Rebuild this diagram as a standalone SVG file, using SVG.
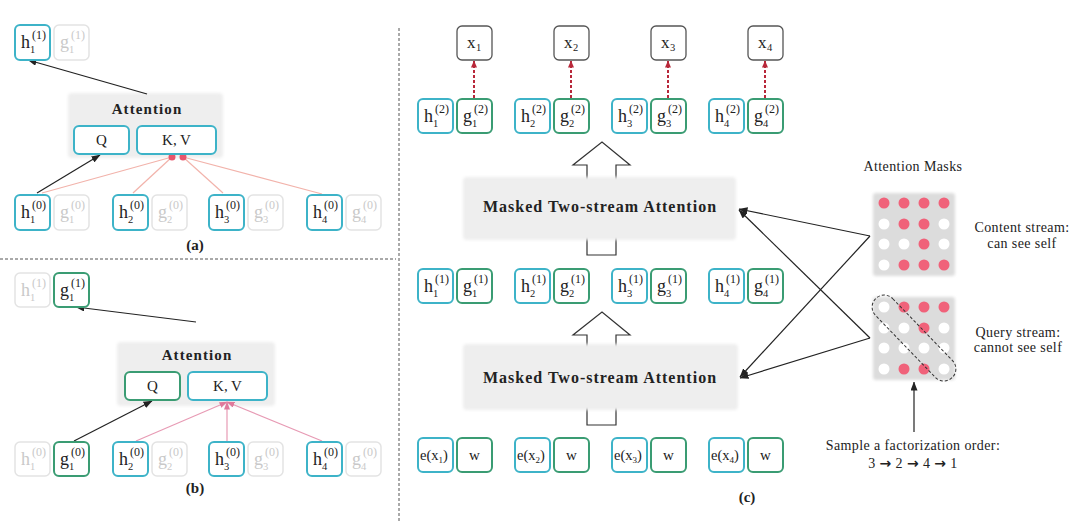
<svg xmlns="http://www.w3.org/2000/svg" width="1080" height="521" viewBox="0 0 1080 521">
<style>
.t{font-family:"Liberation Serif","Times New Roman",serif;fill:#222}
.big{font-size:18px}
.sup{font-size:12px}
.sub{font-size:10.5px}
.f{fill:#c9c9c9}
.hb{fill:#fff;stroke:#3db3c8;stroke-width:2}
.gb{fill:#fff;stroke:#3a9c73;stroke-width:2}
.fb{fill:#fff;stroke:#e3e3e3;stroke-width:1.5}
.xb{fill:#fff;stroke:#555;stroke-width:1.3}
.att{font-family:"Liberation Serif",serif;font-weight:bold;font-size:15px;letter-spacing:1.1px;fill:#222;text-anchor:middle}
.matt{font-family:"Liberation Serif",serif;font-weight:bold;font-size:16px;letter-spacing:1px;fill:#222;text-anchor:middle}
.lab{font-family:"Liberation Serif",serif;font-size:15px;fill:#222;text-anchor:middle}
.cap{font-family:"Liberation Serif",serif;font-size:15px;font-weight:bold;fill:#222;text-anchor:middle}
.note{font-family:"Liberation Serif",serif;font-size:14px;letter-spacing:0.4px;fill:#222;text-anchor:middle}
.arr{font-family:"DejaVu Sans",sans-serif;font-weight:bold;font-size:14px}
.gray{fill:#eeeeee;filter:url(#soft)}
.mg{fill:#dcdcdc;filter:url(#soft)}
.r{fill:#f0627a}
.w{fill:#ffffff}
.blk{stroke:#222;stroke-width:1.2;fill:none;marker-end:url(#ah)}
.pk{stroke:#f2b3ab;stroke-width:1.2;fill:none}
.pkb{stroke:#e79ab4;stroke-width:1.2;fill:none}
.rd{stroke:#b8283a;stroke-width:2;stroke-dasharray:3 2;fill:none;marker-end:url(#ahr)}
.sep{stroke:#555;stroke-width:1;stroke-dasharray:3 2;fill:none}
.hollow{fill:#fff;stroke:#333;stroke-width:1.2}
</style>
<defs>
<filter id="soft" x="-10%" y="-10%" width="120%" height="120%"><feGaussianBlur stdDeviation="1.5"/></filter>
<marker id="ah" markerUnits="userSpaceOnUse" markerWidth="9" markerHeight="7" refX="8.5" refY="3.5" orient="auto"><path d="M0,0 L9,3.5 L0,7 z" fill="#222"/></marker>
<marker id="ahr" markerUnits="userSpaceOnUse" markerWidth="7" markerHeight="6" refX="6.5" refY="3" orient="auto"><path d="M0,0 L7,3 L0,6 z" fill="#b8283a"/></marker>
<marker id="ahp" markerUnits="userSpaceOnUse" markerWidth="8" markerHeight="6" refX="7.5" refY="3" orient="auto"><path d="M0,0 L8,3 L0,6 z" fill="#e07a9c"/></marker>
</defs>
<rect width="1080" height="521" fill="#fff"/>

<!-- separators -->
<g id="separators">
<line class="sep" x1="0" y1="259" x2="396" y2="259"/>
<line class="sep" x1="399" y1="28" x2="399" y2="521"/>
</g>

<!-- gray attention blocks and hollow arrows -->
<g id="attn-a"><rect class="gray" x="68" y="93" width="155" height="65" rx="4"/><text class="att" x="147" y="114">Attention</text></g>
<g id="attn-b"><rect class="gray" x="117" y="342" width="158" height="64" rx="4"/><text class="att" x="197" y="360">Attention</text></g>

<g id="hollow-arrows">
<polygon class="hollow" points="587,255 587,165 573,165 602,142 630,165 616,165 616,255"/>
<polygon class="hollow" points="587,425 587,335 573,335 602,312 630,335 616,335 616,425"/>
</g>
<g id="mtsa-2"><rect class="gray" x="463" y="177" width="273" height="63" rx="4"/><text class="matt" x="600" y="212">Masked Two-stream Attention</text></g>
<g id="mtsa-1"><rect class="gray" x="463" y="344" width="275" height="66" rx="4"/><text class="matt" x="600" y="383">Masked Two-stream Attention</text></g>

<!-- connectors -->
<g id="connectors">
<!-- panel a -->
<line class="pk" x1="42" y1="193" x2="172" y2="157"/>
<line class="pk" x1="133" y1="193" x2="172" y2="157"/>
<line class="pk" x1="223" y1="193" x2="183" y2="157"/>
<line class="pk" x1="322" y1="194" x2="183" y2="157"/>
<circle cx="172" cy="157" r="3.5" fill="#e8566c"/>
<circle cx="183" cy="157" r="3.5" fill="#e8566c"/>
<line class="blk" x1="147" y1="94" x2="28" y2="60"/>
<line class="blk" x1="37" y1="193" x2="100" y2="155"/>
<!-- panel b -->
<line class="pkb" x1="136" y1="441" x2="227" y2="402" marker-end="url(#ahp)"/>
<line class="pkb" x1="227" y1="441" x2="227" y2="402" marker-end="url(#ahp)"/>
<line class="pkb" x1="322" y1="441" x2="227" y2="402" marker-end="url(#ahp)"/>
<line class="blk" x1="196" y1="322" x2="76" y2="307"/>
<line class="blk" x1="74" y1="441" x2="152" y2="401"/>
<!-- panel c -->
<line class="rd" x1="474" y1="98" x2="474" y2="61"/>
<line class="rd" x1="571" y1="98" x2="571" y2="61"/>
<line class="rd" x1="668" y1="98" x2="668" y2="61"/>
<line class="rd" x1="765" y1="98" x2="765" y2="61"/>
<line class="blk" x1="870" y1="236" x2="739" y2="209"/>
<line class="blk" x1="870" y1="236" x2="740" y2="377"/>
<line class="blk" x1="870" y1="338" x2="739" y2="210"/>
<line class="blk" x1="870" y1="338" x2="740" y2="378"/>
<line class="blk" x1="914" y1="432" x2="914" y2="382"/>
</g>

<!-- panel a nodes -->
<g id="a-h1-1"><rect class="hb" x="15" y="25" width="35" height="35" rx="5"/><text class="t big" x="21" y="48">h</text><text class="t sup" x="32" y="39">(1)</text><text class="t sub" x="30" y="53">1</text></g>
<g id="a-g1-1"><rect class="fb" x="54" y="25" width="35" height="35" rx="5"/><text class="t big f" x="60" y="48">g</text><text class="t sup f" x="71" y="39">(1)</text><text class="t sub f" x="69" y="53">1</text></g>
<g id="a-Q"><rect class="hb" x="74" y="126" width="55" height="28" rx="5"/><text class="lab" x="101.5" y="145">Q</text></g>
<g id="a-KV"><rect class="hb" x="137" y="126" width="79" height="28" rx="5"/><text class="lab" x="176.5" y="145">K, V</text></g>

<g id="a-h1-0"><rect class="hb" x="15" y="195" width="35" height="35" rx="5"/><text class="t big" x="21" y="218">h</text><text class="t sup" x="32" y="209">(0)</text><text class="t sub" x="30" y="223">1</text></g>
<g id="a-g1-0"><rect class="fb" x="54" y="195" width="35" height="35" rx="5"/><text class="t big f" x="60" y="218">g</text><text class="t sup f" x="71" y="209">(0)</text><text class="t sub f" x="69" y="223">1</text></g>
<g id="a-h2-0"><rect class="hb" x="113" y="195" width="35" height="35" rx="5"/><text class="t big" x="119" y="218">h</text><text class="t sup" x="130" y="209">(0)</text><text class="t sub" x="128" y="223">2</text></g>
<g id="a-g2-0"><rect class="fb" x="152" y="195" width="35" height="35" rx="5"/><text class="t big f" x="158" y="218">g</text><text class="t sup f" x="169" y="209">(0)</text><text class="t sub f" x="167" y="223">2</text></g>
<g id="a-h3-0"><rect class="hb" x="209" y="195" width="35" height="35" rx="5"/><text class="t big" x="215" y="218">h</text><text class="t sup" x="226" y="209">(0)</text><text class="t sub" x="224" y="223">3</text></g>
<g id="a-g3-0"><rect class="fb" x="248" y="195" width="35" height="35" rx="5"/><text class="t big f" x="254" y="218">g</text><text class="t sup f" x="265" y="209">(0)</text><text class="t sub f" x="263" y="223">3</text></g>
<g id="a-h4-0"><rect class="hb" x="307" y="195" width="35" height="35" rx="5"/><text class="t big" x="313" y="218">h</text><text class="t sup" x="324" y="209">(0)</text><text class="t sub" x="322" y="223">4</text></g>
<g id="a-g4-0"><rect class="fb" x="346" y="195" width="35" height="35" rx="5"/><text class="t big f" x="352" y="218">g</text><text class="t sup f" x="363" y="209">(0)</text><text class="t sub f" x="361" y="223">4</text></g>
<text class="cap" x="195" y="250">(a)</text>

<!-- panel b nodes -->
<g id="b-h1-1"><rect class="fb" x="15" y="273" width="35" height="34" rx="5"/><text class="t big f" x="21" y="296">h</text><text class="t sup f" x="32" y="287">(1)</text><text class="t sub f" x="30" y="301">1</text></g>
<g id="b-g1-1"><rect class="gb" x="54" y="273" width="35" height="34" rx="5"/><text class="t big" x="60" y="296">g</text><text class="t sup" x="71" y="287">(1)</text><text class="t sub" x="69" y="301">1</text></g>
<g id="b-Q"><rect class="gb" x="125" y="372" width="55" height="28" rx="5"/><text class="lab" x="152.5" y="391">Q</text></g>
<g id="b-KV"><rect class="hb" x="188" y="372" width="79" height="28" rx="5"/><text class="lab" x="227.5" y="391">K, V</text></g>

<g id="b-h1-0"><rect class="fb" x="15" y="442" width="35" height="34" rx="5"/><text class="t big f" x="21" y="465">h</text><text class="t sup f" x="32" y="456">(0)</text><text class="t sub f" x="30" y="470">1</text></g>
<g id="b-g1-0"><rect class="gb" x="54" y="442" width="35" height="34" rx="5"/><text class="t big" x="60" y="465">g</text><text class="t sup" x="71" y="456">(0)</text><text class="t sub" x="69" y="470">1</text></g>
<g id="b-h2-0"><rect class="hb" x="113" y="442" width="35" height="34" rx="5"/><text class="t big" x="119" y="465">h</text><text class="t sup" x="130" y="456">(0)</text><text class="t sub" x="128" y="470">2</text></g>
<g id="b-g2-0"><rect class="fb" x="152" y="442" width="35" height="34" rx="5"/><text class="t big f" x="158" y="465">g</text><text class="t sup f" x="169" y="456">(0)</text><text class="t sub f" x="167" y="470">2</text></g>
<g id="b-h3-0"><rect class="hb" x="209" y="442" width="35" height="34" rx="5"/><text class="t big" x="215" y="465">h</text><text class="t sup" x="226" y="456">(0)</text><text class="t sub" x="224" y="470">3</text></g>
<g id="b-g3-0"><rect class="fb" x="248" y="442" width="35" height="34" rx="5"/><text class="t big f" x="254" y="465">g</text><text class="t sup f" x="265" y="456">(0)</text><text class="t sub f" x="263" y="470">3</text></g>
<g id="b-h4-0"><rect class="hb" x="307" y="442" width="35" height="34" rx="5"/><text class="t big" x="313" y="465">h</text><text class="t sup" x="324" y="456">(0)</text><text class="t sub" x="322" y="470">4</text></g>
<g id="b-g4-0"><rect class="fb" x="346" y="442" width="35" height="34" rx="5"/><text class="t big f" x="352" y="465">g</text><text class="t sup f" x="363" y="456">(0)</text><text class="t sub f" x="361" y="470">4</text></g>
<text class="cap" x="195" y="493">(b)</text>

<!-- panel c: outputs -->
<g id="c-x1"><rect class="xb" x="457" y="26" width="35" height="34" rx="5"/><text class="t" font-size="17" x="467" y="48">x</text><text class="t sub" x="476" y="51">1</text></g>
<g id="c-x2"><rect class="xb" x="554" y="26" width="35" height="34" rx="5"/><text class="t" font-size="17" x="564" y="48">x</text><text class="t sub" x="573" y="51">2</text></g>
<g id="c-x3"><rect class="xb" x="651" y="26" width="35" height="34" rx="5"/><text class="t" font-size="17" x="661" y="48">x</text><text class="t sub" x="670" y="51">3</text></g>
<g id="c-x4"><rect class="xb" x="748" y="26" width="35" height="34" rx="5"/><text class="t" font-size="17" x="758" y="48">x</text><text class="t sub" x="767" y="51">4</text></g>

<!-- layer 2 -->
<g id="c-h1-2"><rect class="hb" x="418" y="99" width="35" height="34" rx="5"/><text class="t big" x="424" y="122">h</text><text class="t sup" x="435" y="113">(2)</text><text class="t sub" x="433" y="127">1</text></g>
<g id="c-g1-2"><rect class="gb" x="457" y="99" width="35" height="34" rx="5"/><text class="t big" x="463" y="122">g</text><text class="t sup" x="474" y="113">(2)</text><text class="t sub" x="472" y="127">1</text></g>
<g id="c-h2-2"><rect class="hb" x="515" y="99" width="35" height="34" rx="5"/><text class="t big" x="521" y="122">h</text><text class="t sup" x="532" y="113">(2)</text><text class="t sub" x="530" y="127">2</text></g>
<g id="c-g2-2"><rect class="gb" x="554" y="99" width="35" height="34" rx="5"/><text class="t big" x="560" y="122">g</text><text class="t sup" x="571" y="113">(2)</text><text class="t sub" x="569" y="127">2</text></g>
<g id="c-h3-2"><rect class="hb" x="612" y="99" width="35" height="34" rx="5"/><text class="t big" x="618" y="122">h</text><text class="t sup" x="629" y="113">(2)</text><text class="t sub" x="627" y="127">3</text></g>
<g id="c-g3-2"><rect class="gb" x="651" y="99" width="35" height="34" rx="5"/><text class="t big" x="657" y="122">g</text><text class="t sup" x="668" y="113">(2)</text><text class="t sub" x="666" y="127">3</text></g>
<g id="c-h4-2"><rect class="hb" x="709" y="99" width="35" height="34" rx="5"/><text class="t big" x="715" y="122">h</text><text class="t sup" x="726" y="113">(2)</text><text class="t sub" x="724" y="127">4</text></g>
<g id="c-g4-2"><rect class="gb" x="748" y="99" width="35" height="34" rx="5"/><text class="t big" x="754" y="122">g</text><text class="t sup" x="765" y="113">(2)</text><text class="t sub" x="763" y="127">4</text></g>

<!-- layer 1 -->
<g id="c-h1-1"><rect class="hb" x="418" y="269" width="35" height="34" rx="5"/><text class="t big" x="424" y="292">h</text><text class="t sup" x="435" y="283">(1)</text><text class="t sub" x="433" y="297">1</text></g>
<g id="c-g1-1"><rect class="gb" x="457" y="269" width="35" height="34" rx="5"/><text class="t big" x="463" y="292">g</text><text class="t sup" x="474" y="283">(1)</text><text class="t sub" x="472" y="297">1</text></g>
<g id="c-h2-1"><rect class="hb" x="515" y="269" width="35" height="34" rx="5"/><text class="t big" x="521" y="292">h</text><text class="t sup" x="532" y="283">(1)</text><text class="t sub" x="530" y="297">2</text></g>
<g id="c-g2-1"><rect class="gb" x="554" y="269" width="35" height="34" rx="5"/><text class="t big" x="560" y="292">g</text><text class="t sup" x="571" y="283">(1)</text><text class="t sub" x="569" y="297">2</text></g>
<g id="c-h3-1"><rect class="hb" x="612" y="269" width="35" height="34" rx="5"/><text class="t big" x="618" y="292">h</text><text class="t sup" x="629" y="283">(1)</text><text class="t sub" x="627" y="297">3</text></g>
<g id="c-g3-1"><rect class="gb" x="651" y="269" width="35" height="34" rx="5"/><text class="t big" x="657" y="292">g</text><text class="t sup" x="668" y="283">(1)</text><text class="t sub" x="666" y="297">3</text></g>
<g id="c-h4-1"><rect class="hb" x="709" y="269" width="35" height="34" rx="5"/><text class="t big" x="715" y="292">h</text><text class="t sup" x="726" y="283">(1)</text><text class="t sub" x="724" y="297">4</text></g>
<g id="c-g4-1"><rect class="gb" x="748" y="269" width="35" height="34" rx="5"/><text class="t big" x="754" y="292">g</text><text class="t sup" x="765" y="283">(1)</text><text class="t sub" x="763" y="297">4</text></g>

<!-- inputs -->
<g id="c-e1"><rect class="hb" x="418" y="438" width="35" height="34" rx="5"/><text class="t" font-size="14.5" x="420" y="460">e(x<tspan font-size="9" dy="3">1</tspan><tspan dy="-3">)</tspan></text></g>
<g id="c-w1"><rect class="gb" x="457" y="438" width="35" height="34" rx="5"/><text class="lab" font-size="17" x="474.5" y="460">w</text></g>
<g id="c-e2"><rect class="hb" x="515" y="438" width="35" height="34" rx="5"/><text class="t" font-size="14.5" x="517" y="460">e(x<tspan font-size="9" dy="3">2</tspan><tspan dy="-3">)</tspan></text></g>
<g id="c-w2"><rect class="gb" x="554" y="438" width="35" height="34" rx="5"/><text class="lab" font-size="17" x="571.5" y="460">w</text></g>
<g id="c-e3"><rect class="hb" x="612" y="438" width="35" height="34" rx="5"/><text class="t" font-size="14.5" x="614" y="460">e(x<tspan font-size="9" dy="3">3</tspan><tspan dy="-3">)</tspan></text></g>
<g id="c-w3"><rect class="gb" x="651" y="438" width="35" height="34" rx="5"/><text class="lab" font-size="17" x="668.5" y="460">w</text></g>
<g id="c-e4"><rect class="hb" x="709" y="438" width="35" height="34" rx="5"/><text class="t" font-size="14.5" x="711" y="460">e(x<tspan font-size="9" dy="3">4</tspan><tspan dy="-3">)</tspan></text></g>
<g id="c-w4"><rect class="gb" x="748" y="438" width="35" height="34" rx="5"/><text class="lab" font-size="17" x="765.5" y="460">w</text></g>
<text class="cap" x="747" y="502">(c)</text>

<!-- attention masks -->
<text class="note" font-size="15" x="913" y="171">Attention Masks</text>
<g id="mask-content">
<rect class="mg" x="873" y="193" width="82" height="83" rx="3"/>
<circle class="r" cx="884" cy="203" r="5.5"/><circle class="r" cx="904" cy="203" r="5.5"/><circle class="r" cx="924" cy="203" r="5.5"/><circle class="r" cx="944" cy="203" r="5.5"/>
<circle class="w" cx="884" cy="224" r="5.5"/><circle class="r" cx="904" cy="224" r="5.5"/><circle class="r" cx="924" cy="224" r="5.5"/><circle class="w" cx="944" cy="224" r="5.5"/>
<circle class="w" cx="884" cy="244" r="5.5"/><circle class="w" cx="904" cy="244" r="5.5"/><circle class="r" cx="924" cy="244" r="5.5"/><circle class="w" cx="944" cy="244" r="5.5"/>
<circle class="w" cx="884" cy="265" r="5.5"/><circle class="r" cx="904" cy="265" r="5.5"/><circle class="r" cx="924" cy="265" r="5.5"/><circle class="r" cx="944" cy="265" r="5.5"/>
</g>
<text class="note" x="1022" y="232">Content stream:</text>
<text class="note" x="1022" y="248">can see self</text>
<g id="mask-query">
<rect class="mg" x="873" y="297" width="82" height="83" rx="3"/>
<circle class="w" cx="884" cy="307" r="5.5"/><circle class="r" cx="904" cy="307" r="5.5"/><circle class="r" cx="924" cy="307" r="5.5"/><circle class="r" cx="944" cy="307" r="5.5"/>
<circle class="w" cx="884" cy="328" r="5.5"/><circle class="w" cx="904" cy="328" r="5.5"/><circle class="r" cx="924" cy="328" r="5.5"/><circle class="w" cx="944" cy="328" r="5.5"/>
<circle class="w" cx="884" cy="348" r="5.5"/><circle class="w" cx="904" cy="348" r="5.5"/><circle class="w" cx="924" cy="348" r="5.5"/><circle class="w" cx="944" cy="348" r="5.5"/>
<circle class="w" cx="884" cy="369" r="5.5"/><circle class="r" cx="904" cy="369" r="5.5"/><circle class="r" cx="924" cy="369" r="5.5"/><circle class="w" cx="944" cy="369" r="5.5"/>
<rect x="859" y="326" width="110" height="24" rx="12" fill="none" stroke="#333" stroke-width="1" stroke-dasharray="3 2" transform="rotate(46 914 338)"/>
</g>
<text class="note" x="1018" y="337">Query stream:</text>
<text class="note" x="1018" y="352">cannot see self</text>
<text class="note" font-size="15" x="913" y="450">Sample a factorization order:</text>
<text class="note" font-size="15" x="913" y="468">3 <tspan class="arr">→</tspan> 2 <tspan class="arr">→</tspan> 4 <tspan class="arr">→</tspan> 1</text>
</svg>
